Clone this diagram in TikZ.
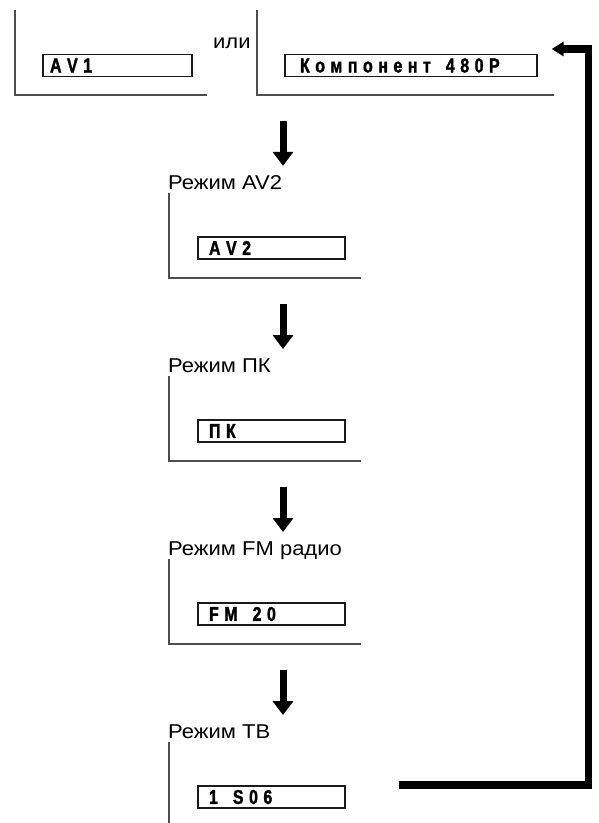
\documentclass[tikz,border=0pt]{standalone}
\usepackage{fontspec}
\setmainfont{Liberation Sans}
\newfontfamily\modefont[FakeStretch=1.1]{Liberation Sans}
\newfontfamily\lcdfont[FakeStretch=0.8,FakeBold=1.5]{Liberation Sans}
% spaced display text, one glyph at a time
\newcommand\lcdgap{\hbox to 4pt{}}
\makeatletter
\newcommand\lcd[1]{\lcd@#1\relax}
\def\lcd@#1{\ifx\relax#1\else#1\kern5.5pt\expandafter\lcd@\fi}
\makeatother
\usepackage{xcolor}
\definecolor{ink}{HTML}{1A1A1A}
\definecolor{rule}{HTML}{4D4D4D}
\usepackage{tikz}
\usetikzlibrary{arrows.meta,positioning}
\tikzset{
  frame/.style ={draw=rule,line width=1.2pt},
  lcdbox/.style={draw=ink,line width=1.3pt,minimum height=22pt,
                 inner ysep=0pt,inner xsep=11pt,text width=125pt,align=left,
                 font=\lcdfont\bfseries\fontsize{20}{20}\selectfont},
  mode/.style  ={font=\modefont\fontsize{20}{20}\selectfont,inner sep=0pt,anchor=base west},
  down/.style  ={-{Triangle[length=14pt,width=20pt]},line width=7pt,draw=black},
  back/.style  ={-{Triangle[length=12pt,width=14pt]},line width=7.5pt,draw=black},
}
\begin{document}
\begin{tikzpicture}[x=1pt,y=-1pt]
\useasboundingbox (0,0) rectangle (598,823);
% source panels
\draw[frame] (15,10) -- (15,95) -- (207,95);
\draw[frame] (257,10) -- (257,95) -- (554,95);
\node[lcdbox,inner xsep=7pt,text width=135pt] (boxAV1) at (117.5,65.5) {\lcd{AV1}};
\node[lcdbox,inner xsep=15pt,text width=222pt] (boxCP) at (411,65.5) {\lcd{Компонент\lcdgap 480P}};
\node[mode] (orlbl) at (213,48) {или};
% mode panels
\foreach \n/\y/\t/\d in {AV2/248/Режим AV2/AV2, PC/431/Режим ПК/ПК,
                         FM/614/Режим FM радио/FM\lcdgap 20, TV/797/Режим ТВ/1\lcdgap S06}
  {\node[mode] (lbl\n) at (168,\y-59) {\t};
   \node[lcdbox] (box\n) at (271.5,\y) {\expandafter\lcd\expandafter{\d}};
   \coordinate (top\n) at (283,\y-127);
   \draw[down,shorten >=9pt] (top\n) -- (top\n |- lbl\n.north);}
\foreach \y in {248,431,614}
  {\draw[frame] (169,\y-55) -- (169,\y+30) -- (361,\y+30);}
\draw[frame] (169,742) -- (169,823);
% back to the start
\draw[back] ([xshift=53pt,yshift=12pt]boxTV.east) -| ([xshift=51pt,yshift=16.5pt]boxCP.east)
  -- ([xshift=14pt,yshift=16.5pt]boxCP.east);
\end{tikzpicture}
\end{document}
